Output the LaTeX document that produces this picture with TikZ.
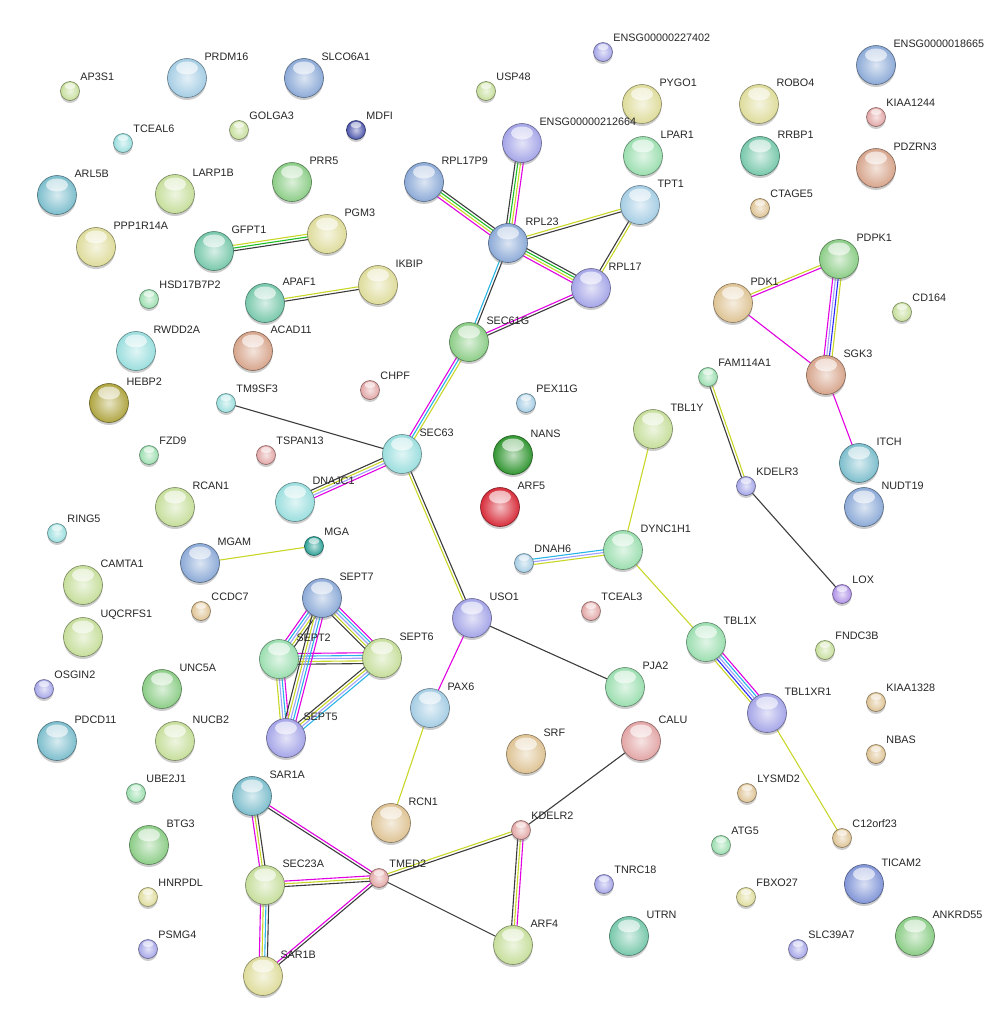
\documentclass[tikz,border=0pt]{standalone}
\usepackage{fontspec}
\setmainfont{Liberation Sans}
\usetikzlibrary{positioning, calc, shadows}
\pgfdeclarelayer{edges}
\pgfsetlayers{edges,main}

% node colours
\definecolor{plgreen}{RGB}{198,222,155}
\definecolor{pmint}{RGB}{155,222,175}
\definecolor{ptmint}{RGB}{120,200,172}
\definecolor{plcyan}{RGB}{155,222,222}
\definecolor{pcyteal}{RGB}{125,190,205}
\definecolor{plblue}{RGB}{165,205,228}
\definecolor{psblue}{RGB}{140,170,215}
\definecolor{plav}{RGB}{165,165,232}
\definecolor{pdblue}{RGB}{75,85,170}
\definecolor{pblue}{RGB}{130,150,215}
\definecolor{pkhaki}{RGB}{222,220,155}
\definecolor{polive}{RGB}{175,165,65}
\definecolor{ptan}{RGB}{222,195,148}
\definecolor{ppink}{RGB}{226,165,165}
\definecolor{pbpink}{RGB}{215,165,140}
\definecolor{pgreen}{RGB}{140,205,135}
\definecolor{pdgreen}{RGB}{50,150,50}
\definecolor{pred}{RGB}{215,45,58}
\definecolor{pteal}{RGB}{45,160,150}
\definecolor{plilac}{RGB}{175,145,230}
% evidence colours
\definecolor{cx}{RGB}{60,60,60}
\definecolor{tm}{RGB}{200,214,40}
\definecolor{db}{RGB}{40,180,230}
\definecolor{ex}{RGB}{225,0,225}
\definecolor{hm}{RGB}{160,160,255}
\definecolor{nb}{RGB}{30,190,40}
\definecolor{co}{RGB}{40,40,250}

\tikzset{
  prot/.style={circle, draw=#1!60!black, line width=0.6pt, inner sep=0pt,
    minimum size=39pt, inner color=#1!30!white, outer color=#1,
    drop shadow={shadow xshift=0pt, shadow yshift=-2.5pt, opacity=0.4},
    path picture={\fill[white, opacity=0.6]
      ([yshift=10pt]path picture bounding box.center) ellipse [x radius=11pt, y radius=6.5pt];}},
  sprot/.style={prot=#1, minimum size=19pt,
    path picture={\fill[white, opacity=0.6]
      ([yshift=5pt]path picture bounding box.center) ellipse [x radius=5.5pt, y radius=3.2pt];}},
  every label/.style={font=\fontsize{10.8}{12}\selectfont, text=black!85},
  link/.style={line width=1.1pt},
}

% one line per evidence colour, side by side
\newcommand{\evlink}[3]{%
  \foreach \col [count=\i] in {#3} {\xdef\nlines{\i}}%
  \foreach \col [count=\i] in {#3} {%
    \pgfmathsetmacro{\off}{(\i-(\nlines+1)/2)*2.7}%
    \draw[link, draw=\col] ($(#1)!\off pt!90:(#2)$) -- ($(#2)!\off pt!-90:(#1)$);
  }%
}

\begin{document}
\begin{tikzpicture}[x=1pt, y=-1pt]
  \useasboundingbox (0,0) rectangle (985,1021);

  % proteins, top band
  \node[sprot=plgreen, label={45:AP3S1}] (ap3s1) at (70,91) {};
  \node[prot=plblue, label={45:PRDM16}] (prdm16) at (187,78) {};
  \node[prot=psblue, label={45:SLCO6A1}] (slco6a1) at (304,78) {};
  \node[sprot=plgreen, label={45:GOLGA3}] (golga3) at (239,130) {};
  \node[sprot=plcyan, label={45:TCEAL6}] (tceal6) at (123,143) {};
  \node[sprot=pdblue, label={45:MDFI}] (mdfi) at (356,130) {};
  \node[sprot=plgreen, label={45:USP48}] (usp48) at (486,91) {};
  \node[sprot=plav, label={45:ENSG00000227402}] (ensg227402) at (603,52) {};
  \node[prot=pkhaki, label={45:PYGO1}] (pygo1) at (642,104) {};
  \node[prot=pmint, label={45:LPAR1}] (lpar1) at (643,156) {};
  \node[prot=pkhaki, label={45:ROBO4}] (robo4) at (759,104) {};
  \node[prot=ptmint, label={45:RRBP1}] (rrbp1) at (760,156) {};
  \node[sprot=ptan, label={45:CTAGE5}] (ctage5) at (760,208) {};
  \node[prot=psblue, label={45:ENSG0000018665}] (ensg18665) at (876,65) {};
  \node[sprot=ppink, label={45:KIAA1244}] (kiaa1244) at (876,117) {};
  \node[prot=pbpink, label={45:PDZRN3}] (pdzrn3) at (876,168) {};

  \node[prot=pcyteal, label={45:ARL5B}] (arl5b) at (57,195) {};
  \node[prot=plgreen, label={45:LARP1B}] (larp1b) at (175,194) {};
  \node[prot=pgreen, label={45:PRR5}] (prr5) at (292,182) {};
  \node[prot=pkhaki, label={45:PPP1R14A}] (ppp1r14a) at (96,247) {};
  \node[prot=ptmint, label={45:GFPT1}] (gfpt1) at (214,251) {};
  \node[prot=pkhaki, label={45:PGM3}] (pgm3) at (327,234) {};
  \node[sprot=pmint, label={45:HSD17B7P2}] (hsd17b7p2) at (149,299) {};
  \node[prot=ptmint, label={45:APAF1}] (apaf1) at (265,303) {};
  \node[prot=pkhaki, label={45:IKBIP}] (ikbip) at (378,285) {};
  \node[prot=plcyan, label={45:RWDD2A}] (rwdd2a) at (136,351) {};
  \node[prot=pbpink, label={45:ACAD11}] (acad11) at (253,351) {};

  % ribosome / translocon
  \node[prot=plav, label={45:ENSG00000212664}] (ensg212664) at (522,143) {};
  \node[prot=psblue, label={45:RPL17P9}] (rpl17p9) at (424,182) {};
  \node[prot=psblue, label={45:RPL23}] (rpl23) at (508,243) {};
  \node[prot=plblue, label={45:TPT1}] (tpt1) at (640,205) {};
  \node[prot=plav, label={45:RPL17}] (rpl17) at (591,288) {};
  \node[prot=pgreen, label={45:SEC61G}] (sec61g) at (469,342) {};
  \node[prot=plcyan, label={45:SEC63}] (sec63) at (402,454) {};

  \node[prot=pgreen, label={45:PDPK1}] (pdpk1) at (839,259) {};
  \node[prot=ptan, label={45:PDK1}] (pdk1) at (733,303) {};
  \node[sprot=plgreen, label={45:CD164}] (cd164) at (902,312) {};
  \node[prot=pbpink, label={45:SGK3}] (sgk3) at (826,375) {};

  % middle band
  \node[prot=polive, label={45:HEBP2}] (hebp2) at (109,403) {};
  \node[sprot=plcyan, label={45:TM9SF3}] (tm9sf3) at (226,403) {};
  \node[sprot=ppink, label={45:CHPF}] (chpf) at (370,390) {};
  \node[sprot=plblue, label={45:PEX11G}] (pex11g) at (526,403) {};
  \node[sprot=pmint, label={45:FZD9}] (fzd9) at (149,455) {};
  \node[sprot=ppink, label={45:TSPAN13}] (tspan13) at (266,455) {};
  \node[prot=pdgreen, label={45:NANS}] (nans) at (513,455) {};
  \node[prot=pred, label={45:ARF5}] (arf5) at (500,507) {};
  \node[prot=plgreen, label={45:RCAN1}] (rcan1) at (175,507) {};
  \node[prot=plcyan, label={45:DNAJC1}] (dnajc1) at (295,502) {};
  \node[sprot=plcyan, label={45:RING5}] (ring5) at (57,533) {};
  \node[prot=psblue, label={45:MGAM}] (mgam) at (200,563) {};
  \node[sprot=pteal, label={45:MGA}] (mga) at (314,546) {};
  \node[prot=plgreen, label={45:CAMTA1}] (camta1) at (83,585) {};
  \node[sprot=ptan, label={45:CCDC7}] (ccdc7) at (201,611) {};
  \node[prot=plgreen, label={45:UQCRFS1}] (uqcrfs1) at (83,637) {};

  \node[prot=plgreen, label={45:TBL1Y}] (tbl1y) at (653,429) {};
  \node[sprot=pmint, label={45:FAM114A1}] (fam114a1) at (708,377) {};
  \node[prot=pcyteal, label={45:ITCH}] (itch) at (859,463) {};
  \node[sprot=plav, label={45:KDELR3}] (kdelr3) at (746,486) {};
  \node[prot=psblue, label={45:NUDT19}] (nudt19) at (864,507) {};
  \node[prot=pmint, label={45:DYNC1H1}] (dync1h1) at (623,550) {};
  \node[sprot=plblue, label={45:DNAH6}] (dnah6) at (524,563) {};
  \node[sprot=plilac, label={45:LOX}] (lox) at (842,594) {};
  \node[sprot=ppink, label={45:TCEAL3}] (tceal3) at (591,611) {};
  \node[prot=plav, label={45:USO1}] (uso1) at (472,618) {};
  \node[prot=pmint, label={45:TBL1X}] (tbl1x) at (706,642) {};
  \node[sprot=plgreen, label={45:FNDC3B}] (fndc3b) at (825,650) {};

  % septins
  \node[prot=psblue, label={45:SEPT7}] (sept7) at (322,598) {};
  \node[prot=pmint, label={45:SEPT2}] (sept2) at (279,659) {};
  \node[prot=plgreen, label={45:SEPT6}] (sept6) at (382,658) {};
  \node[prot=plav, label={45:SEPT5}] (sept5) at (286,738) {};

  % lower band
  \node[sprot=plav, label={45:OSGIN2}] (osgin2) at (44,689) {};
  \node[prot=pgreen, label={45:UNC5A}] (unc5a) at (162,689) {};
  \node[prot=pcyteal, label={45:PDCD11}] (pdcd11) at (57,741) {};
  \node[prot=plgreen, label={45:NUCB2}] (nucb2) at (175,741) {};
  \node[sprot=pmint, label={45:UBE2J1}] (ube2j1) at (136,793) {};
  \node[prot=pgreen, label={45:BTG3}] (btg3) at (149,845) {};
  \node[sprot=pkhaki, label={45:HNRPDL}] (hnrpdl) at (148,897) {};
  \node[sprot=plav, label={45:PSMG4}] (psmg4) at (148,949) {};

  \node[prot=pcyteal, label={45:SAR1A}] (sar1a) at (252,796) {};
  \node[prot=plgreen, label={45:SEC23A}] (sec23a) at (265,885) {};
  \node[prot=pkhaki, label={45:SAR1B}] (sar1b) at (263,976) {};
  \node[sprot=ppink, label={45:TMED2}] (tmed2) at (379,878) {};
  \node[prot=plblue, label={45:PAX6}] (pax6) at (430,708) {};
  \node[prot=ptan, label={45:RCN1}] (rcn1) at (391,823) {};
  \node[prot=pmint, label={45:PJA2}] (pja2) at (625,687) {};
  \node[prot=ptan, label={45:SRF}] (srf) at (526,754) {};
  \node[prot=ppink, label={45:CALU}] (calu) at (641,741) {};
  \node[sprot=ppink, label={45:KDELR2}] (kdelr2) at (521,830) {};
  \node[sprot=plav, label={45:TNRC18}] (tnrc18) at (604,884) {};
  \node[prot=plgreen, label={45:ARF4}] (arf4) at (513,945) {};
  \node[prot=ptmint, label={45:UTRN}] (utrn) at (629,936) {};

  \node[prot=plav, label={45:TBL1XR1}] (tbl1xr1) at (767,713) {};
  \node[sprot=ptan, label={45:KIAA1328}] (kiaa1328) at (876,702) {};
  \node[sprot=ptan, label={45:NBAS}] (nbas) at (876,754) {};
  \node[sprot=ptan, label={45:LYSMD2}] (lysmd2) at (747,793) {};
  \node[sprot=ptan, label={45:C12orf23}] (c12orf23) at (842,838) {};
  \node[sprot=pmint, label={45:ATG5}] (atg5) at (721,845) {};
  \node[prot=pblue, label={45:TICAM2}] (ticam2) at (864,884) {};
  \node[sprot=pkhaki, label={45:FBXO27}] (fbxo27) at (746,897) {};
  \node[prot=pgreen, label={45:ANKRD55}] (ankrd55) at (915,936) {};
  \node[sprot=plav, label={45:SLC39A7}] (slc39a7) at (798,949) {};

  \begin{pgfonlayer}{edges}
    \evlink{gfpt1}{pgm3}{cx,nb,tm}
    \evlink{apaf1}{ikbip}{cx,tm}
    \evlink{rpl17p9}{rpl23}{ex,tm,nb,cx}
    \evlink{ensg212664}{rpl23}{cx,nb,tm,ex}
    \evlink{rpl23}{tpt1}{cx,tm}
    \evlink{rpl23}{rpl17}{ex,tm,nb,cx}
    \evlink{tpt1}{rpl17}{cx,tm}
    \evlink{rpl23}{sec61g}{db,cx}
    \evlink{rpl17}{sec61g}{ex,cx}
    \evlink{sec61g}{sec63}{ex,db,tm}
    \evlink{tm9sf3}{sec63}{cx}
    \evlink{sec63}{dnajc1}{cx,tm,hm,ex}
    \evlink{sec63}{uso1}{tm,cx}
    \evlink{uso1}{pja2}{cx}
    \evlink{uso1}{pax6}{ex}
    \evlink{pax6}{rcn1}{tm}
    \evlink{mgam}{mga}{tm}
    % septin block
    \evlink{sept7}{sept2}{ex,db,hm,tm,cx}
    \evlink{sept7}{sept6}{cx,tm,hm,db,ex}
    \evlink{sept2}{sept6}{cx,tm,hm,db,ex}
    \evlink{sept2}{sept5}{tm,hm,db,ex}
    \evlink{sept7}{sept5}{cx,tm,hm,db,ex}
    \evlink{sept6}{sept5}{cx,tm,hm,db}
    \evlink{tbl1y}{dync1h1}{tm}
    \evlink{dnah6}{dync1h1}{tm,hm,db}
    \evlink{dync1h1}{tbl1x}{tm}
    \evlink{tbl1x}{tbl1xr1}{tm,co,hm,db,ex}
    \evlink{tbl1xr1}{c12orf23}{tm}
    \evlink{fam114a1}{kdelr3}{cx,tm}
    \evlink{kdelr3}{lox}{cx}
    \evlink{pdk1}{pdpk1}{ex,tm}
    \evlink{pdpk1}{sgk3}{ex,hm,co,tm}
    \evlink{pdk1}{sgk3}{ex}
    \evlink{sgk3}{itch}{ex}
    % COPII / ER export
    \evlink{sar1a}{sec23a}{ex,tm,cx}
    \evlink{sar1a}{tmed2}{cx,ex}
    \evlink{sec23a}{tmed2}{cx,tm,ex}
    \evlink{sec23a}{sar1b}{ex,tm,db,cx}
    \evlink{sar1b}{tmed2}{cx,ex}
    \evlink{tmed2}{kdelr2}{cx,tm}
    \evlink{tmed2}{arf4}{cx}
    \evlink{kdelr2}{arf4}{cx,tm,ex}
    \evlink{kdelr2}{calu}{cx}
  \end{pgfonlayer}
\end{tikzpicture}
\end{document}
